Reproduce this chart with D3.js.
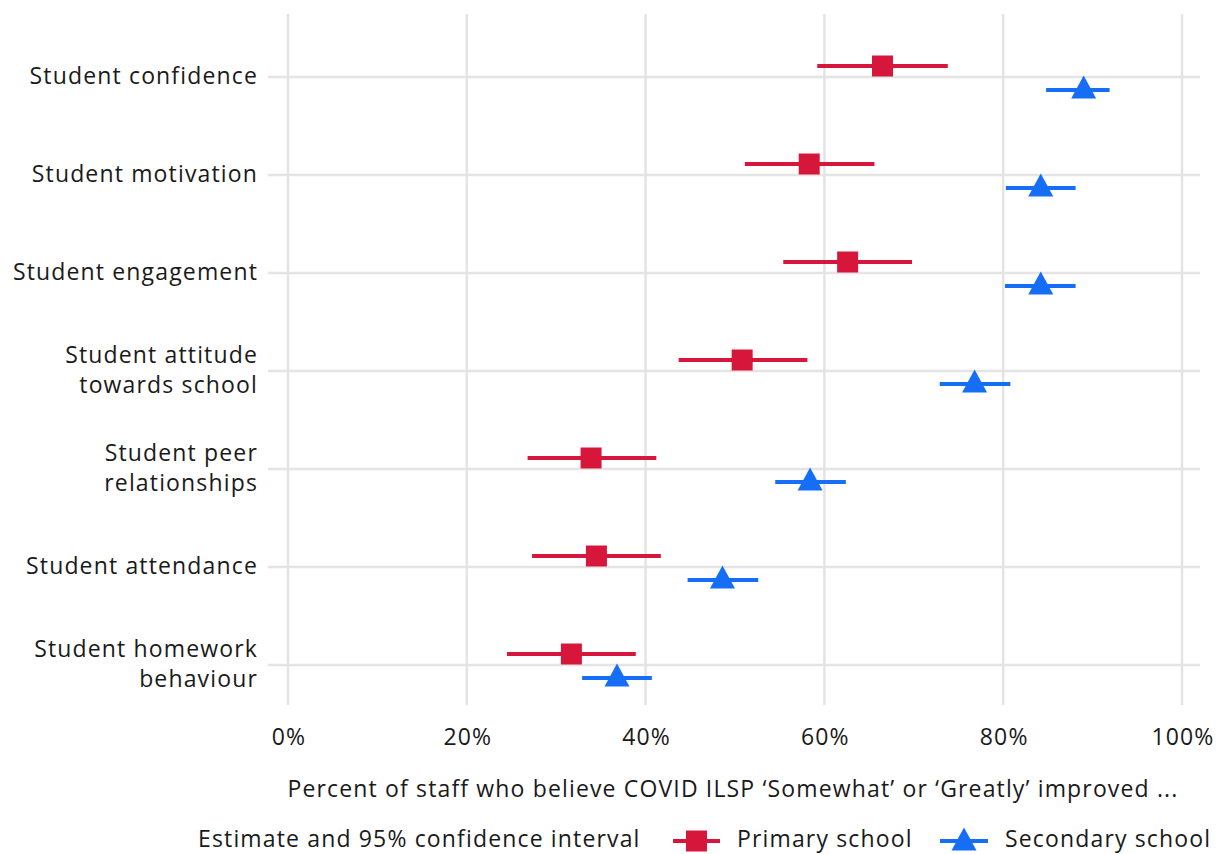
<!DOCTYPE html>
<html><head><meta charset="utf-8">
<script src="https://cdn.jsdelivr.net/npm/d3@7"></script>
<style>body{margin:0;background:#fff;} text{font-family:"Open Sans","Noto Sans",sans-serif;fill:#1a1a1a;font-size:23px;letter-spacing:1.15px;}</style>
</head><body><svg id="c" width="1216" height="854"></svg>
<script>
const categories = [
  ["Student confidence"],
  ["Student motivation"],
  ["Student engagement"],
  ["Student attitude","towards school"],
  ["Student peer","relationships"],
  ["Student attendance"],
  ["Student homework","behaviour"]
];
const primaryEst  = [66.5, 58.3, 62.6, 50.8, 33.9, 34.5, 31.7];
const primaryLow  = [59.2, 51.1, 55.4, 43.7, 26.8, 27.3, 24.5];
const primaryHigh = [73.8, 65.6, 69.8, 58.1, 41.2, 41.7, 38.9];
const secondaryEst  = [89.0, 84.2, 84.2, 76.8, 58.4, 48.6, 36.8];
const secondaryLow  = [84.8, 80.3, 80.2, 72.9, 54.5, 44.7, 32.9];
const secondaryHigh = [91.9, 88.1, 88.1, 80.8, 62.4, 52.6, 40.7];
const xTicks = [0, 20, 40, 60, 80, 100];
const xTitle = "Percent of staff who believe COVID ILSP \u2018Somewhat\u2019 or \u2018Greatly\u2019 improved ...";
const legendTitle = "Estimate and 95% confidence interval";
const seriesNames = ["Primary school", "Secondary school"];

const RED = "#d7163b", BLUE = "#176ef6", GRID = "#e4e4e4";
const svg = d3.select("#c");
const x = d3.scaleLinear().domain([0,100]).range([288,1182]);
const y = d3.scaleLinear().domain([0,6]).range([77,665]);
const panel = {left:268, right:1200, top:14, bottom:705};

const g = svg.append("g");
g.selectAll(".vg").data(xTicks).join("line")
  .attr("x1",d=>x(d)).attr("x2",d=>x(d)).attr("y1",panel.top).attr("y2",panel.bottom)
  .attr("stroke",GRID).attr("stroke-width",2.5);
g.selectAll(".hg").data(categories).join("line")
  .attr("x1",panel.left).attr("x2",panel.right).attr("y1",(d,i)=>y(i)).attr("y2",(d,i)=>y(i))
  .attr("stroke",GRID).attr("stroke-width",2.5);

const yl = g.selectAll(".yl").data(categories).join("text").attr("text-anchor","end");
yl.each(function(d,i){
  const t = d3.select(this);
  const n = d.length, lh = 30;
  d.forEach((line,k)=>{
    t.append("tspan").attr("x",258).attr("y", y(i) + (k-(n-1)/2)*lh + 7).text(line);
  });
});

g.selectAll(".xl").data(xTicks).join("text")
  .attr("x",d=>x(d)+1).attr("y",745).attr("text-anchor","middle")
  .text(d=>d+"%");
g.append("text").attr("x",733).attr("y",797).attr("text-anchor","middle").text(xTitle);

const pOff = -11, sOff = 13;
g.selectAll(".pci").data(primaryEst).join("line")
  .attr("x1",(d,i)=>x(primaryLow[i])).attr("x2",(d,i)=>x(primaryHigh[i]))
  .attr("y1",(d,i)=>y(i)+pOff).attr("y2",(d,i)=>y(i)+pOff)
  .attr("stroke",RED).attr("stroke-width",4);
const sq = d3.symbol().type(d3.symbolSquare).size(21*21);
g.selectAll(".pm").data(primaryEst).join("path")
  .attr("d",sq).attr("transform",(d,i)=>`translate(${x(d)},${y(i)+pOff})`).attr("fill",RED);
g.selectAll(".sci").data(secondaryEst).join("line")
  .attr("x1",(d,i)=>x(secondaryLow[i])).attr("x2",(d,i)=>x(secondaryHigh[i]))
  .attr("y1",(d,i)=>y(i)+sOff).attr("y2",(d,i)=>y(i)+sOff)
  .attr("stroke",BLUE).attr("stroke-width",4);
const tri = "M0,-12.5L12.5,10.5L-12.5,10.5Z";
g.selectAll(".sm").data(secondaryEst).join("path")
  .attr("d",tri).attr("transform",(d,i)=>`translate(${x(d)},${y(i)+sOff-2})`).attr("fill",BLUE);

const ly = 841;
g.append("text").attr("x",198).attr("y",ly+6).text(legendTitle);
g.append("line").attr("x1",673).attr("x2",720).attr("y1",ly).attr("y2",ly).attr("stroke",RED).attr("stroke-width",4);
g.append("path").attr("d",sq).attr("transform",`translate(696.5,${ly})`).attr("fill",RED);
g.append("text").attr("x",737).attr("y",ly+6).text(seriesNames[0]);
g.append("line").attr("x1",940).attr("x2",988).attr("y1",ly).attr("y2",ly).attr("stroke",BLUE).attr("stroke-width",4);
g.append("path").attr("d",tri).attr("transform",`translate(964,${ly-1})`).attr("fill",BLUE);
g.append("text").attr("x",1005).attr("y",ly+6).text(seriesNames[1]);
</script></body></html>
